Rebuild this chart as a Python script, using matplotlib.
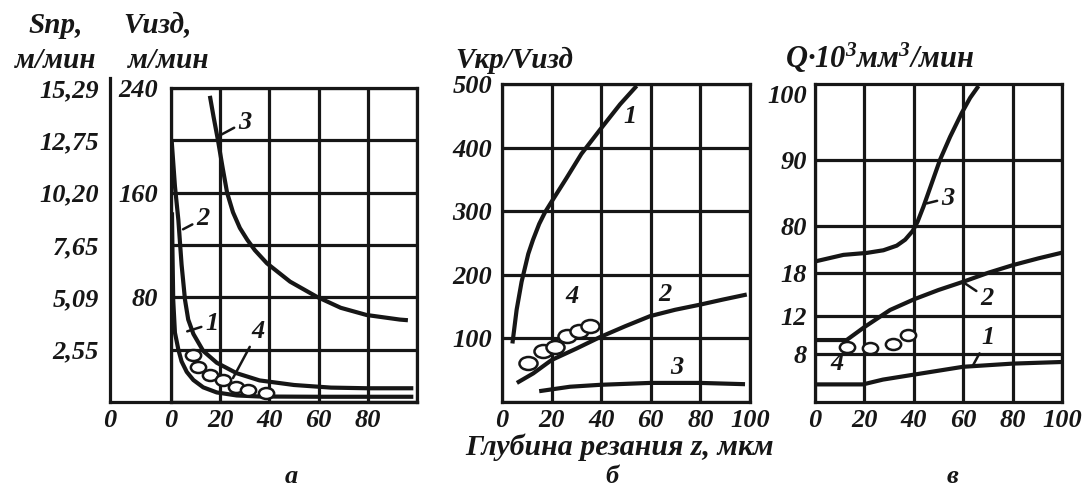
import numpy as np
import matplotlib
matplotlib.use('Agg')
import matplotlib.pyplot as plt
from matplotlib.markers import MarkerStyle
from matplotlib.transforms import Affine2D

# ------------------------- data -------------------------
# panel "а"  (x: depth z, um; y: V_izd, m/min ; twin S_pr scale)
a_x_ticks = [0, 20, 40, 60, 80, 100]
a_x_labels = ['0', '20', '40', '60', '80', '']
a_v_ticks = [0, 40, 80, 120, 160, 200, 240]
a_v_labels = ['', '', '80', '', '160', '', '240']
a_s_ticks = [2.55, 5.09, 7.65, 10.20, 12.75, 15.29]
a_s_labels = ['2,55', '5,09', '7,65', '10,20', '12,75', '15,29']

a1_z = [0.3, 1.6, 3.0, 4.3, 5.7, 7.0, 9.1, 13.1, 18.6, 26.7, 36, 50, 65, 80, 98.5]
a1_v = [199, 165, 139, 105, 78, 63, 52, 39, 30, 22, 16.5, 13, 11, 10.5, 10.5]
a2_z = [0.4, 0.6, 0.9, 1.6, 3.0, 4.3, 6.4, 9.1, 13.1, 18.6, 26.7, 36, 60, 98.5]
a2_v = [145, 115, 78, 53, 40, 31, 23, 16.8, 11.2, 7.3, 5.0, 4.2, 4.0, 4.0]
a3_z = [15.8, 17.3, 19.1, 20.9, 22.8, 25.2, 28, 31, 34.1, 39, 48.4, 59.2, 69, 79.5, 93, 96.3]
a3_v = [234, 218, 200, 180, 160, 145, 133, 124, 116, 106, 92, 80.5, 72, 66.5, 63, 62.5]
a4_z = [8.9, 11.1, 15.8, 21, 26.3, 31.5, 38.8]
a4_v = [36, 27, 20.6, 16.8, 11.5, 9.2, 6.9]

# panel "б"  (V_kr / V_izd)
b_x_ticks = [0, 20, 40, 60, 80, 100]
b_x_labels = ['0', '20', '40', '60', '80', '100']
b_y_ticks = [0, 100, 200, 300, 400, 500]
b_y_labels = ['', '100', '200', '300', '400', '500']

b1_z = [4.2, 5.9, 7.9, 10.6, 12.5, 15, 17.3, 20, 26, 32, 39.5, 47.6, 54.3]
b1_v = [92, 145, 189, 233, 255, 280, 298, 315, 352, 390, 428, 468, 497]
b2_z = [6, 12.6, 20, 30, 39.5, 49.6, 59.7, 69.8, 79.8, 89, 98.7]
b2_v = [30, 45, 66, 84, 102, 119, 135, 145, 153, 161, 169]
b3_z = [15, 27.4, 39.5, 59.7, 80, 98]
b3_v = [17, 24, 27, 30, 30, 28]
b4_z = [10.6, 16.7, 21.4, 26.1, 31.2, 35.5]
b4_v = [61, 80, 86, 103, 111, 119]

# panel "в"  (Q*10^3 mm^3/min), broken scale: lower part and upper part
c_x_ticks = [0, 20, 40, 60, 80, 100]
c_x_labels = ['0', '20', '40', '60', '80', '100']
c_low_ticks = [8, 12, 18]
c_low_labels = ['8', '12', '18']
c_up_ticks = [80, 90, 100]
c_up_labels = ['80', '90', '100']
c_up_grid = [80, 90]

c1_z = [0, 19.4, 27.5, 39.6, 59.9, 80.1, 99.9]
c1_q = [6.1, 6.1, 6.4, 6.7, 7.2, 7.4, 7.5]
c2_z = [0, 12.8, 20.2, 30.4, 40.1, 50, 60.1, 70.2, 80.3, 90.5, 99.9]
c2_q = [9.47, 9.47, 10.87, 12.84, 14.33, 15.63, 16.79, 18.04, 19.12, 20.05, 20.83]
c3_z = [0, 11.5, 21, 27.7, 33.1, 36.5, 39.5, 41.5, 43.9, 47.3, 50.6, 54.7, 59.4, 62.8, 66.2]
c3_q = [74.6, 75.6, 75.9, 76.3, 77.0, 77.9, 79.2, 80.6, 82.9, 86.5, 90, 93.5, 97.1, 99.4, 101.2]
c4_z = [12.8, 22.3, 31.7, 37.8]
c4_q = [8.77, 8.6, 9.02, 10.0]

# anchors of the (hand drawn) lower Q scale: value -> relative height
c_low_scale_vals = [5, 8, 12, 18, 44.4]
c_low_scale_pos = [0, 48, 86, 129, 318]

# ------------------------- style -------------------------
plt.rcParams['font.family'] = ['Liberation Serif', 'DejaVu Serif']
plt.rcParams['font.weight'] = 'bold'
plt.rcParams['font.style'] = 'italic'
plt.rcParams['mathtext.fontset'] = 'custom'
plt.rcParams['mathtext.rm'] = 'Liberation Serif:bold:italic'
plt.rcParams['mathtext.it'] = 'Liberation Serif:bold:italic'
plt.rcParams['mathtext.default'] = 'regular'

INK = '#161616'
LW_CURVE = 3.0
LW_GRID = 2.3
TICK_FS = 19
LAB_FS = 21
NUM_FS = 19

W, H = 1086, 488
fig = plt.figure(figsize=(W / 100, H / 100), dpi=100)
fig.patch.set_facecolor('white')


def box(x0, y0, x1, y1):
    return [x0 / W, 1 - y1 / H, (x1 - x0) / W, (y1 - y0) / H]


def fpos(x, y):
    return x / W, 1 - y / H


def style_axes(ax, xpad=7, ypad=7):
    ax.set_facecolor('none')
    for s in ax.spines.values():
        s.set_linewidth(LW_GRID)
        s.set_color(INK)
    ax.tick_params(length=0, labelsize=TICK_FS, colors=INK)
    ax.tick_params(axis='x', pad=xpad)
    ax.tick_params(axis='y', pad=ypad)
    ax.grid(True, color=INK, linewidth=LW_GRID)


ell = MarkerStyle('o', transform=Affine2D().scale(1.0, 0.72))

def circles(ax, x, y, ms):
    ax.plot(x, y, linestyle='none', marker=ell, markersize=ms,
            markerfacecolor='white', markeredgecolor=INK,
            markeredgewidth=1.8, zorder=4, clip_on=False)

def curve(ax, x, y):
    ax.plot(x, y, color=INK, linewidth=LW_CURVE, solid_capstyle='butt',
            solid_joinstyle='round', zorder=3)

def lead(ax, txt, xy, xytext):
    ax.annotate(txt, xy=xy, xytext=xytext, ha='center', va='center',
                fontsize=NUM_FS, color=INK,
                arrowprops=dict(arrowstyle='-', color=INK, lw=1.8,
                                shrinkA=1, shrinkB=0))

# ------------------------- panel а -------------------------
ax_o = fig.add_axes(box(110, 78, 417, 402))
ax_o.set_facecolor('none')
for k in ['top', 'right']:
    ax_o.spines[k].set_visible(False)
for k in ['left', 'bottom']:
    ax_o.spines[k].set_linewidth(LW_GRID)
    ax_o.spines[k].set_color(INK)
ax_o.set_xlim(0, 1)
ax_o.set_ylim(0, 15.29 * 324 / 314)
ax_o.set_xticks([0])
ax_o.set_xticklabels(['0'])
ax_o.set_yticks(a_s_ticks)
ax_o.set_yticklabels(a_s_labels)
ax_o.tick_params(length=0, labelsize=TICK_FS, colors=INK)
ax_o.tick_params(axis='x', pad=5)
ax_o.tick_params(axis='y', pad=8)

ax_a = fig.add_axes(box(171, 88, 417, 402))
style_axes(ax_a, xpad=5, ypad=9)
ax_a.set_xlim(0, 100)
ax_a.set_ylim(0, 240)
ax_a.set_xticks(a_x_ticks)
ax_a.set_xticklabels(a_x_labels)
ax_a.set_yticks(a_v_ticks)
ax_a.set_yticklabels(a_v_labels)
curve(ax_a, a1_z, a1_v)
curve(ax_a, a2_z, a2_v)
curve(ax_a, a3_z, a3_v)
circles(ax_a, a4_z, a4_v, 11)
lead(ax_a, '3', (19.1, 203), (30, 214))
lead(ax_a, '2', (4.9, 132), (13, 140))
lead(ax_a, '1', (6.6, 54), (16.7, 60))
lead(ax_a, '4', (25.2, 18.3), (35.4, 54))

# ------------------------- panel б -------------------------
ax_b = fig.add_axes(box(502, 84, 750, 402))
style_axes(ax_b, xpad=5, ypad=7)
ax_b.set_xlim(0, 100)
ax_b.set_ylim(0, 500)
ax_b.set_xticks(b_x_ticks)
ax_b.set_xticklabels(b_x_labels)
ax_b.set_yticks(b_y_ticks)
ax_b.set_yticklabels(b_y_labels)
curve(ax_b, b1_z, b1_v)
curve(ax_b, b2_z, b2_v)
curve(ax_b, b3_z, b3_v)
circles(ax_b, b4_z, b4_v, 13)
ax_b.text(51.6, 449, '1', fontsize=NUM_FS, ha='center', va='center', color=INK)
ax_b.text(65.7, 169, '2', fontsize=NUM_FS, ha='center', va='center', color=INK)
ax_b.text(70.6, 55, '3', fontsize=NUM_FS, ha='center', va='center', color=INK)
ax_b.text(28.2, 166, '4', fontsize=NUM_FS, ha='center', va='center', color=INK)

# ------------------------- panel в -------------------------
ax_c = fig.add_axes(box(815, 84, 1062, 402))
fwd = lambda v: np.interp(v, c_low_scale_vals, c_low_scale_pos)
inv = lambda p: np.interp(p, c_low_scale_pos, c_low_scale_vals)
ax_c.set_yscale('function', functions=(fwd, inv))
style_axes(ax_c, xpad=5, ypad=6)
ax_c.set_xlim(0, 100)
ax_c.set_ylim(c_low_scale_vals[0], c_low_scale_vals[-1])
ax_c.set_xticks(c_x_ticks)
ax_c.set_xticklabels(c_x_labels)
ax_c.set_yticks(c_low_ticks)
ax_c.set_yticklabels(c_low_labels)
ax_c.yaxis.set_minor_locator(matplotlib.ticker.NullLocator())

ax_cu = ax_c.twinx()
for s in ax_cu.spines.values():
    s.set_visible(False)
ax_cu.set_ylim(53.3, 101.5)
ax_cu.yaxis.tick_left()
ax_cu.set_yticks(c_up_ticks)
ax_cu.set_yticklabels(c_up_labels)
ax_cu.tick_params(length=0, labelsize=TICK_FS, colors=INK, pad=6)
for g in c_up_grid:
    ax_cu.axhline(g, color=INK, linewidth=LW_GRID, zorder=1)

curve(ax_c, c1_z, c1_q)
curve(ax_c, c2_z, c2_q)
curve(ax_cu, c3_z, c3_q)
circles(ax_c, c4_z, c4_q, 11)
lead(ax_cu, '3', (45.2, 83.4), (53.8, 84.2))
lead(ax_c, '2', (60.5, 16.6), (69.6, 14.5))
lead(ax_c, '1', (64, 7.3), (70, 9.7))
ax_c.text(9, 7.4, '4', fontsize=NUM_FS, ha='center', va='center', color=INK)

# ------------------------- texts -------------------------
def ftxt(x, y, s, fs=LAB_FS, ha='center', va='baseline'):
    fig.text(*fpos(x, y), s, fontsize=fs, ha=ha, va=va, color=INK)

ftxt(56, 33, 'Sпр,')
ftxt(55, 68, 'м/мин')
ftxt(157, 33, 'Vизд,')
ftxt(168, 68, 'м/мин')
ftxt(455, 68, 'Vкр/Vизд', ha='left')
ftxt(785, 68, r'Q·$10^3$м$м^3$/мин', fs=22, ha='left')
ftxt(620, 455, 'Глубина резания z, мкм', fs=21.5)
ftxt(291, 483, 'а', fs=19)
ftxt(612, 483, 'б', fs=19)
ftxt(952, 483, 'в', fs=19)

fig.savefig('out.png', dpi=100, facecolor='white')
